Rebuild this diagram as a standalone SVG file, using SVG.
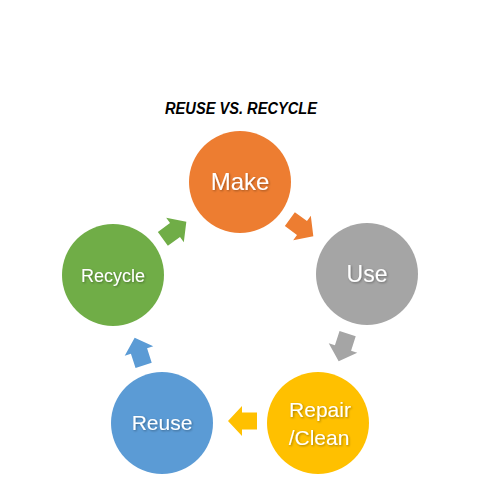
<svg xmlns="http://www.w3.org/2000/svg" width="480" height="480" viewBox="0 0 480 480">
<defs>
<filter id="ts" x="-20%" y="-20%" width="140%" height="140%">
<feDropShadow dx="1" dy="1" stdDeviation="0.8" flood-color="#000" flood-opacity="0.35"/>
</filter>
<path id="arr" d="M-15,-8.5 L0,-8.5 L0,-15 L14,0 L0,15 L0,8.5 L-15,8.5 Z"/>
</defs>
<style>
.lbl{font-family:"Liberation Sans",Arial,sans-serif;fill:#fff;text-anchor:middle;filter:url(#ts)}
.title{font-family:"Liberation Sans",Arial,sans-serif;font-weight:bold;font-style:italic;fill:#000;text-anchor:middle}
</style>
<rect width="480" height="480" fill="#fff"/>
<text class="title" x="241" y="114" font-size="16" textLength="152" lengthAdjust="spacingAndGlyphs">REUSE VS. RECYCLE</text>
<g id="connectors">
<use href="#arr" fill="#ED7D31" transform="translate(302,228) rotate(36)"/>
<use href="#arr" fill="#A5A5A5" transform="translate(343,348) rotate(108)"/>
<use href="#arr" fill="#FFC000" transform="translate(242,421) rotate(180)"/>
<use href="#arr" fill="#5B9BD5" transform="translate(139,351) rotate(252)"/>
<use href="#arr" fill="#70AD47" transform="translate(175,230) rotate(-36)"/>
</g>
<g id="make">
<circle cx="240" cy="182" r="51" fill="#ED7D31"/>
<text class="lbl" x="240" y="190" font-size="24">Make</text>
</g>
<g id="use">
<circle cx="367" cy="274" r="51" fill="#A5A5A5"/>
<text class="lbl" x="367" y="282" font-size="23">Use</text>
</g>
<g id="repair">
<circle cx="318" cy="423" r="51" fill="#FFC000"/>
<text class="lbl" x="320" y="417" font-size="21">Repair</text>
<text class="lbl" x="319" y="445" font-size="21">/Clean</text>
</g>
<g id="reuse">
<circle cx="162" cy="423" r="51" fill="#5B9BD5"/>
<text class="lbl" x="162" y="430" font-size="21">Reuse</text>
</g>
<g id="recycle">
<circle cx="113" cy="275" r="51" fill="#70AD47"/>
<text class="lbl" x="113" y="282" font-size="18">Recycle</text>
</g>
</svg>
